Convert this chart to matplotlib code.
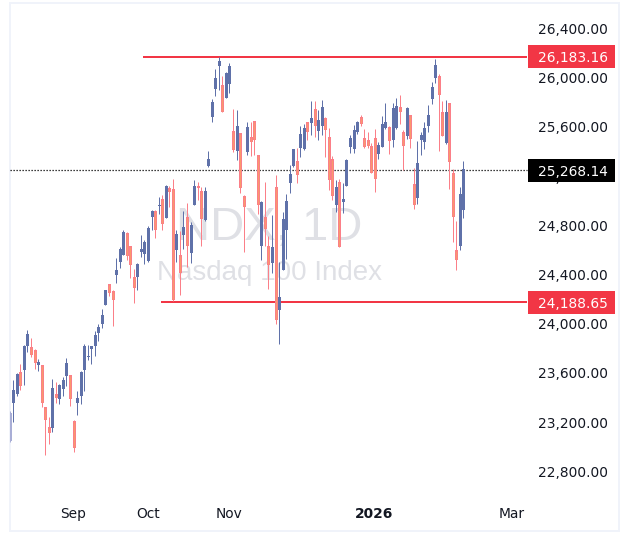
import numpy as np
import matplotlib
matplotlib.use("Agg")
import matplotlib.pyplot as plt
from matplotlib.patches import Rectangle
from matplotlib.transforms import blended_transform_factory

# daily candles, first one is cut off by the left edge
highs = [23303, 23555, 23609, 23685, 23837, 23962, 23896, 23807, 23726, 23677, 23335, 23254, 23563, 23539, 23522,
         23579, 23734, 23596, 23230, 23466, 23628, 23848, 23840, 23831, 23953, 24010, 24132, 24287, 24335, 24287,
         24547, 24636, 24775, 24758, 24645, 24458, 24504, 24734, 24693, 24807, 24937, 24937, 25043, 25059, 25140,
         25132, 25189, 24775, 24766, 24929, 24994, 24840, 25181, 25165, 25124, 25124, 25417, 25839, 26083, 26181,
         26026, 26059, 26132, 25758, 25750, 25563, 25056, 25652, 25652, 25660, 25387, 25010, 25165, 24726, 24896,
         25221, 24514, 24921, 25067, 25303, 25433, 25441, 25620, 25636, 25652, 25823, 25823, 25750, 25831, 25693,
         25604, 25376, 25181, 25189, 25156, 25349, 25547, 25628, 25660, 25709, 25595, 25571, 25482, 25595, 25490,
         25701, 25807, 25620, 25807, 25847, 25872, 25587, 25774, 25709, 25278, 25498, 25571, 25652, 25791, 25978,
         26165, 26043, 25823, 25831, 25807, 25270, 24848, 25124, 25335]
lows = [23050, 23216, 23425, 23474, 23514, 23785, 23742, 23644, 23628, 23338, 22945, 23037, 23132, 23371, 23360,
        23425, 23506, 23344, 22970, 23270, 23360, 23466, 23718, 23685, 23750, 23872, 23978, 24165, 24238, 23994,
        24344, 24466, 24571, 24531, 24384, 24181, 24287, 24555, 24498, 24514, 24775, 24710, 24905, 24775, 24872,
        24962, 24197, 24514, 24246, 24620, 24474, 24506, 24978, 25018, 24645, 24848, 25287, 25652, 25864, 25912,
        25731, 25847, 25888, 25408, 25343, 25075, 24595, 25384, 25376, 25384, 24904, 24530, 24644, 24295, 24425,
        24010, 23847, 24449, 24539, 25075, 25286, 25156, 25368, 25425, 25506, 25547, 25530, 25506, 25547, 25368,
        25100, 25018, 24921, 24636, 24912, 25132, 25400, 25400, 25555, 25620, 25441, 25441, 25238, 25083, 25352,
        25449, 25598, 25392, 25449, 25595, 25636, 25262, 25514, 25441, 24945, 24986, 25384, 25433, 25571, 25799,
        25969, 25417, 25538, 25473, 25108, 24677, 24449, 24612, 24872]
opens = [23060, 23371, 23441, 23617, 23639, 23834, 23821, 23799, 23677, 23677, 23335, 23173, 23167, 23441, 23403,
         23485, 23588, 23593, 23222, 23371, 23428, 23639, 23742, 23807, 23834, 23940, 24013, 24167, 24335, 24279,
         24409, 24514, 24571, 24750, 24642, 24392, 24392, 24596, 24580, 24523, 24880, 24926, 24970, 25027, 24875,
         25116, 25105, 24612, 24571, 24734, 24880, 24588, 24978, 25132, 25092, 24856, 25295, 25693, 25921, 26108,
         25953, 25847, 25961, 25579, 25417, 25560, 25051, 25408, 25530, 25660, 25384, 24644, 24880, 24644, 24506,
         25124, 24124, 24449, 24774, 25156, 25295, 25335, 25441, 25433, 25652, 25644, 25758, 25579, 25620, 25685,
         25530, 25352, 24977, 25165, 25002, 25132, 25449, 25433, 25571, 25693, 25522, 25506, 25457, 25522, 25392,
         25449, 25604, 25612, 25506, 25604, 25774, 25571, 25538, 25709, 25148, 25034, 25506, 25490, 25620, 25839,
         26010, 26026, 25734, 25482, 25807, 25238, 24612, 24644, 24937]
closes = [23290, 23474, 23604, 23509, 23831, 23929, 23761, 23696, 23701, 23371, 23232, 23127, 23490, 23411, 23514,
          23555, 23693, 23403, 23005, 23409, 23620, 23831, 23750, 23831, 23921, 23986, 24083, 24287, 24265, 24208,
          24449, 24620, 24758, 24563, 24490, 24303, 24498, 24620, 24677, 24791, 24929, 24775, 24978, 24823, 25132,
          25084, 24206, 24742, 24425, 24799, 24645, 24815, 25132, 25116, 24864, 25092, 25352, 25815, 26010, 26148,
          25731, 26051, 26108, 25425, 25620, 25116, 24964, 25612, 25490, 25506, 24980, 25002, 24782, 24490, 24636,
          24040, 24230, 24864, 25010, 25230, 25433, 25224, 25555, 25604, 25571, 25685, 25620, 25669, 25774, 25587,
          25181, 25051, 25124, 24636, 25026, 25343, 25522, 25587, 25652, 25639, 25449, 25454, 25238, 25189, 25465,
          25636, 25652, 25498, 25766, 25782, 25734, 25457, 25766, 25514, 24977, 25319, 25547, 25604, 25709, 25937,
          26116, 25872, 25538, 25734, 25327, 24880, 24530, 25067, 25268.14]

price_ticks = [26400, 26000, 25600, 25200, 24800, 24400, 24000, 23600, 23200, 22800]
month_pos = [17, 38, 61, 101.7, 140.7]
month_labels = ["Sep", "Oct", "Nov", "2026", "Mar"]

resistance = 26183.16
support = 24188.65
last_price = 25268.14

BLUE = "#5f71a9"
PINK = "#fb7f88"
ORANGE = "#f89a6c"
RED = "#f23645"
BORDER = "#f0f3fa"
TEXT = "#131722"
FONT = "DejaVu Sans"

W, H = 629, 545
fig = plt.figure(figsize=(W / 100, H / 100), dpi=100, facecolor="white")
ax = fig.add_axes([10 / W, 1 - 531 / H, 609 / W, 528 / H])
ax.set_xlim(-0.93, 170.9)
ax.set_ylim(22327, 26620)
ax.set_xticks([])
ax.set_yticks([])
for s in ax.spines.values():
    s.set_color(BORDER)
    s.set_linewidth(1.44)
    s.set_zorder(1)

# watermark
wm = blended_transform_factory(ax.transAxes, ax.transData)
ax.text(0.426, 24790, "NDX, 1D", family="Liberation Sans", fontsize=34, color="#dfe0e5",
        ha="center", va="center", transform=wm, zorder=0)
ax.text(0.426, 24425, "Nasdaq 100 Index", family="Liberation Sans", fontsize=20, color="#dfe0e5",
        ha="center", va="center", transform=wm, zorder=0)

# the label and dotted line sit about a pixel lower than the scale says
last_y = last_price - 6

# levels
ax.plot([36.6, 144.9], [resistance, resistance], color=RED, lw=1.44, zorder=2, solid_capstyle="butt")
ax.plot([41.7, 144.9], [support, support], color=RED, lw=1.44, zorder=2, solid_capstyle="butt")
ax.plot([-0.93, 144.9], [last_y, last_y], color="black", lw=0.9, ls=(0, (1, 1.4)),
        zorder=2, dash_capstyle="butt", snap=True)

# candles: 3 px bodies, red ones get a thin orange core
o = np.array(opens, dtype=float)
c = np.array(closes, dtype=float)
x = np.arange(len(o)) - 1
up = c >= o
cols = [BLUE if u else PINK for u in up]
cols[0] = "#a9aed6"
ax.vlines(x, lows, highs, colors=cols, lw=0.72, zorder=3)
# half a pixel over so the snapped body stays centred on the snapped wick
ax.bar(x + 0.141, np.abs(c - o), bottom=np.minimum(o, c), width=0.8465, color=cols, linewidth=0, zorder=3)
red = ~up & (o - c > 16)
ax.vlines(x[red], c[red] + 8, o[red] - 8, colors=ORANGE, lw=0.72, zorder=3.5)

# price scale
lab_x = 598 / 609
for p in price_ticks:
    ax.text(lab_x, p + 12, f"{p:,.2f}", family=FONT, fontsize=9.9, color=TEXT, ha="right", va="center_baseline",
            transform=wm, zorder=4)

box_h = 187
for p, y, col in [(resistance, resistance, RED), (support, support, RED), (last_price, last_y, "black")]:
    ax.add_patch(Rectangle((518 / 609, y - box_h / 2), 87 / 609, box_h, facecolor=col, edgecolor="none",
                           transform=wm, zorder=5))
    ax.text(lab_x, y, f"{p:,.2f}", family=FONT, fontsize=9.9, color="white", ha="right", va="center_baseline",
            transform=wm, zorder=6)

# time scale
tm = blended_transform_factory(ax.transData, ax.transAxes)
for pos, lab in zip(month_pos, month_labels):
    ax.text(pos, 18.5 / 528, lab, family=FONT, fontsize=9.9, color=TEXT, ha="center", va="center_baseline",
            fontweight="bold" if lab == "2026" else "normal", transform=tm, zorder=4)

fig.savefig("out.png", dpi=100)
